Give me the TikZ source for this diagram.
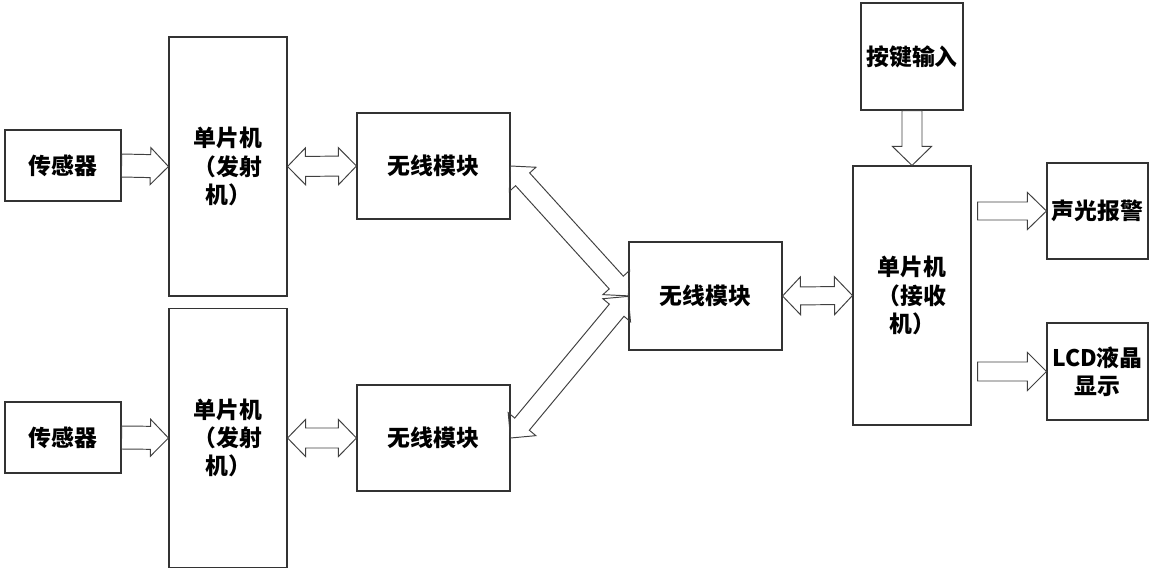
\documentclass[tikz,border=0pt]{standalone}
\usepackage{fontspec}
\setmainfont{Noto Sans CJK SC}
\usetikzlibrary{calc}
\newcommand{\bpt}[2]{([shift={(\p1)},rotate=\n1]#1,#2)}
\tikzset{
    barrow shaft/.initial=0.2cm,
    barrow head/.initial=0.37cm,
    barrow len/.initial=0.37cm,
    barrow/.style={
        to path={
        let \p1=(\tikztostart), \p2=(\tikztotarget), \p3=($(\p2)-(\p1)$),
            \n1={atan2(\y3,\x3)}, \n2={veclen(\x3,\y3)},
            \n3={\pgfkeysvalueof{/tikz/barrow shaft}},
            \n4={\pgfkeysvalueof{/tikz/barrow head}},
            \n5={\pgfkeysvalueof{/tikz/barrow len}} in
        \bpt{0pt}{\n3} -- \bpt{\n2-\n5}{\n3} -- \bpt{\n2-\n5}{\n4} -- \bpt{\n2}{0pt}
        -- \bpt{\n2-\n5}{-\n4} -- \bpt{\n2-\n5}{-\n3} -- \bpt{0pt}{-\n3} -- cycle
        }
    },
    dbarrow/.style={
        to path={
        let \p1=(\tikztostart), \p2=(\tikztotarget), \p3=($(\p2)-(\p1)$),
            \n1={atan2(\y3,\x3)}, \n2={veclen(\x3,\y3)},
            \n3={\pgfkeysvalueof{/tikz/barrow shaft}},
            \n4={\pgfkeysvalueof{/tikz/barrow head}},
            \n5={\pgfkeysvalueof{/tikz/barrow len}} in
        \bpt{0pt}{0pt} -- \bpt{\n5}{\n4} -- \bpt{\n5}{\n3} -- \bpt{\n2-\n5}{\n3}
        -- \bpt{\n2-\n5}{\n4} -- \bpt{\n2}{0pt} -- \bpt{\n2-\n5}{-\n4}
        -- \bpt{\n2-\n5}{-\n3} -- \bpt{\n5}{-\n3} -- \bpt{\n5}{-\n4} -- cycle
        }
    },
}
\tikzset{box/.style={draw=black!80, line width=0.6pt, align=center, inner sep=0pt,
    font=\bfseries\fontsize{13}{16}\selectfont}}
\tikzset{flow/.style={draw=black!75, line width=0.55pt}}

\begin{document}
\begin{tikzpicture}
\useasboundingbox (0,0) rectangle (23.02,-11.4);
%\draw[step=1cm,lightgray,very thin] (0,-11.4) grid (23.02,0);
% upper sender
\node[box, minimum width=2.32cm, minimum height=1.42cm] (sens1) at (1.26,-3.31) {传感器};
\node[box, minimum width=2.36cm, minimum height=5.18cm] (mcu1) at (4.56,-3.33) {单片机\\（发射\\机）};
\node[box, minimum width=3.06cm, minimum height=2.12cm] (wl1) at (8.67,-3.32) {无线模块};
% lower sender
\node[box, minimum width=2.32cm, minimum height=1.42cm] (sens2) at (1.26,-8.75) {传感器};
\node[box, minimum width=2.36cm, minimum height=5.18cm] (mcu2) at (4.56,-8.76) {单片机\\（发射\\机）};
\node[box, minimum width=3.06cm, minimum height=2.12cm] (wl2) at (8.67,-8.76) {无线模块};
% receiver
\node[box, minimum width=3.06cm, minimum height=2.16cm] (wlC) at (14.11,-5.92) {无线模块};
\node[box, minimum width=2.36cm, minimum height=5.18cm] (mcuR) at (18.24,-5.91) {单片机\\（接收\\机）};
\node[box, minimum width=2.04cm, minimum height=2.14cm] (key) at (18.24,-1.13) {按键输入};
\node[box, minimum width=2.02cm, minimum height=1.92cm] (alarm) at (21.95,-4.22) {声光报警};
\node[box, minimum width=2.02cm, minimum height=1.94cm] (lcd) at (21.95,-7.43) {LCD液晶\\显示};

\draw[flow, barrow, barrow shaft=0.23cm, barrow len=0.36cm] (sens1.east) to (mcu1.west);
\draw[flow, barrow, barrow shaft=0.23cm, barrow len=0.36cm] (sens2.east) to (mcu2.west);
\draw[flow, dbarrow, barrow shaft=0.2cm, barrow len=0.36cm] (mcu1.east) to (wl1.west);
\draw[flow, dbarrow, barrow shaft=0.2cm, barrow len=0.36cm] (mcu2.east) to (wl2.west);
\draw[flow, dbarrow, barrow shaft=0.19cm, barrow head=0.36cm, barrow len=0.36cm] (wl1.east) to (wlC.west);
\draw[flow, dbarrow, barrow shaft=0.19cm, barrow head=0.36cm, barrow len=0.36cm] (wl2.east) to (wlC.west);
\draw[flow, dbarrow, barrow shaft=0.18cm, barrow head=0.38cm, barrow len=0.36cm] (wlC.east) to (mcuR.west);
\draw[flow, barrow, barrow shaft=0.2cm, barrow head=0.39cm, barrow len=0.38cm] (key.south) to (mcuR.north);
\draw[flow, barrow, barrow shaft=0.18cm, barrow len=0.38cm] ($(mcuR.east |- alarm.west)+(0.12,0)$) to (alarm.west);
\draw[flow, barrow, barrow shaft=0.19cm, barrow head=0.38cm, barrow len=0.38cm] ($(mcuR.east |- lcd.west)+(0.12,0)$) to (lcd.west);
\end{tikzpicture}
\end{document}
